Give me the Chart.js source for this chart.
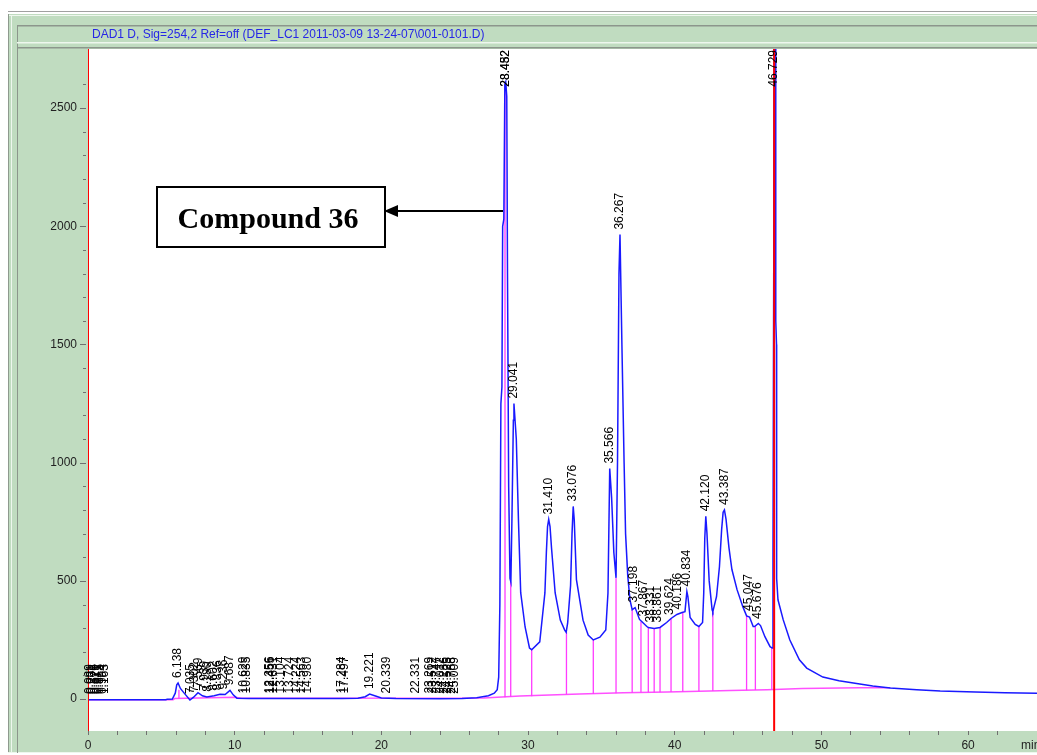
<!DOCTYPE html>
<html>
<head>
<meta charset="utf-8">
<script src="https://cdn.jsdelivr.net/npm/chart.js@4"></script>
<style>
  html, body { margin: 0; padding: 0; background: #fff; overflow: hidden; }
  canvas { display: block; }
</style>
</head>
<body>
<canvas id="chromChart" width="1037" height="755"></canvas>
<script>
// DAD1 D signal (mAU) against retention time (min)
const traceTime = [0, 5.3, 5.4, 5.75, 5.95, 6.05, 6.14, 6.3, 6.6, 6.95, 7.2, 7.5, 7.8, 8.1, 8.6, 9.0, 9.35, 9.68, 9.9, 10.15,
  11, 12.5, 14, 15.5, 17.3, 18.4, 18.9, 19.2, 19.6, 20.0, 21, 24, 25.5, 26.5, 27.3, 27.7, 27.9,
  28.0, 28.08, 28.15, 28.22, 28.27, 28.35, 28.42, 28.48, 28.55, 28.6, 28.68, 28.77, 28.83, 28.9, 29.0, 29.04,
  29.2, 29.35, 29.5, 29.8, 30.1, 30.25, 30.8, 31.15, 31.25, 31.33, 31.41, 31.5, 31.6, 31.85,
  32.2, 32.5, 32.6, 32.7, 32.9, 33.0, 33.08, 33.15, 33.3,
  33.75, 34.1, 34.45, 34.9, 35.3, 35.45, 35.57, 35.7, 35.85, 36.0, 36.1, 36.2, 36.27,
  36.4, 36.55, 36.65, 36.8, 36.95, 37.1, 37.3, 37.6, 37.75, 38.1, 38.2, 38.6, 39.0, 39.45, 39.75, 40.15, 40.5, 40.7,
  40.83, 40.9, 41.05, 41.4, 41.65, 41.9, 41.98, 42.05, 42.12, 42.2, 42.35, 42.55, 42.6, 42.85,
  43.05, 43.2, 43.3, 43.39, 43.5, 43.7, 43.9, 44.25,
  44.65, 44.9, 45.1, 45.35, 45.45, 45.7, 45.85, 46.15, 46.5, 46.65, 46.7, 46.75, 46.78, 46.87, 46.89, 46.94, 46.95,
  47.04, 47.4, 47.85, 48.5, 49.0, 50.1, 51.2, 52.4, 53.5, 54.7, 56.5, 58.1, 60.5, 62.5, 64.7];
const traceMau = [-3, -3, -1, 0, 25, 60, 68, 45, 22, -4, 8, 27, 14, 9, 14, 20, 19, 37, 18, 4,
  2, 3, 3, 2, 3, 4, 10, 21, 13, 5, 2, 1, 2, 6, 14, 25, 40,
  93, 400, 1250, 1320, 2000, 2030, 2600, 2610, 2550, 1800, 900, 510, 495, 750, 1180, 1250,
  1100, 750, 450, 305, 216, 209, 242, 449, 620, 730, 760, 730, 640, 449,
  334, 292, 283, 321, 480, 700, 815, 760, 505,
  334, 271, 250, 262, 292, 449, 975, 850, 620, 513, 1000, 1800, 1965,
  1500, 1000, 700, 520, 420, 378, 387, 337, 328, 307, 303, 299, 303, 324, 341, 358, 366, 370,
  455, 434, 345, 316, 307, 324, 450, 680, 773, 700, 500, 378, 370, 433,
  560, 718, 790, 800, 760, 640, 548, 463,
  390, 352, 347, 307, 307, 320, 311, 264, 222, 216, 600, 1800, 3200, 3000, 1600, 1500, 510,
  420, 335, 250, 166, 131, 93, 78, 66, 55, 47, 40, 34, 30, 27, 25];

// integration baseline
const baseTime = [0, 5.8, 5.9, 10, 10.5, 27, 27.9, 29.45, 33.5, 36.5, 39.5, 43.8, 46.3, 48.7, 52.6, 54.7];
const baseMau = [-3, -3, 2, 8, 4, 5, 8, 13, 21, 27, 30, 36, 39, 45, 48, 48];

// drop lines between peaks
const dropTime = [6.2, 28.43, 28.82, 30.25, 32.62, 34.45, 36.0, 37.1, 37.7, 38.2, 38.6, 39.0, 39.75, 40.55, 41.65, 42.6, 44.9, 45.5, 46.62];
const dropBase = [3, 8, 9, 12, 19, 22, 25, 27, 28, 29, 29, 29, 30, 31, 33, 34, 37, 38, 39];
const dropTop = [40, 2600, 495, 209, 283, 250, 513, 378, 328, 303, 299, 303, 341, 366, 307, 370, 352, 307, 216];

// time events (red markers)
const eventTime = [0, 46.78];

// peak labels: retention time and apex height
const peakTime = [0.089, 0.231, 0.378, 0.529, 0.671, 0.815, 0.994, 1.163,
  6.138, 7.035, 7.302, 7.569, 7.939, 8.180, 8.602, 8.836, 9.236, 9.687,
  10.629, 10.835, 12.356, 12.455, 12.631, 13.104, 13.724, 14.224, 14.563, 14.980,
  17.284, 17.497, 19.221, 20.339, 22.331, 23.269, 23.512, 23.747, 24.012, 24.286, 24.525, 24.788, 25.009,
  28.452, 28.482, 29.041, 31.410, 33.076, 35.566, 36.267, 37.198, 37.867, 38.331, 38.861,
  39.624, 40.186, 40.834, 42.120, 43.387, 45.047, 45.676, 46.729];
const peakApex = [0, 0, 0, 0, 0, 0, 0, 0,
  68, 0, 8, 27, 14, 10, 14, 16, 19, 37,
  3, 3, 3, 3, 3, 3, 2, 2, 2, 2,
  3, 3, 21, 3, 2, 2, 2, 2, 1, 1, 1, 1, 1,
  2610, 2610, 1250, 760, 815, 975, 1965, 387, 328, 303, 303,
  335, 358, 455, 773, 800, 352, 318, 3200];

const chartTitle = 'DAD1 D, Sig=254,2 Ref=off (DEF_LC1 2011-03-09 13-24-07\\001-0101.D)';
const calloutText = 'Compound 36';
const yMin = -135;
const yMax = 2750;

const sansFont = '"Liberation Sans", Arial, sans-serif';
const panelGreen = 'rgb(192,220,192)';

function pairs(xs, ys) {
    return xs.map((x, i) => ({ x: x, y: ys[i] }));
}

const dropData = [];
dropTime.forEach((t, i) => {
    dropData.push({ x: t, y: dropBase[i] }, { x: t, y: dropTop[i] }, { x: t, y: null });
});
const eventData = [];
eventTime.forEach(t => {
    eventData.push({ x: t, y: yMin }, { x: t, y: yMax }, { x: t, y: null });
});

const frame = {
    id: 'frame',
    beforeDraw(chart) {
        const c = chart.ctx;
        const a = chart.chartArea;
        const W = chart.width, H = chart.height;
        c.save();
        c.fillStyle = '#fff';
        c.fillRect(0, 0, W, H);
        c.fillStyle = '#a0a0a0';
        c.fillRect(8, 11, W - 8, 1);
        // outer green window
        c.fillStyle = panelGreen;
        c.fillRect(8, 14, W - 8, 739);
        c.fillStyle = '#8e9a8e';
        c.fillRect(8, 14, 1, 739);
        c.fillStyle = '#eef7ee';
        c.fillRect(9, 15, W - 9, 1);
        c.fillRect(11, 15, 1, 738);
        c.fillRect(8, 752, W - 8, 1);
        // title bar
        c.fillStyle = '#8c968c';
        c.fillRect(17, 25, W - 17, 1.5);
        c.fillRect(17, 25, 1, 728);
        c.fillStyle = '#eef7ee';
        c.fillRect(17, 42, W - 17, 1.5);
        c.fillStyle = '#8c968c';
        c.fillRect(17, 47, W - 17, 1.5);
        // plot area
        c.fillStyle = '#fff';
        c.fillRect(a.left, a.top, a.right - a.left, a.bottom - a.top);
        c.fillStyle = '#2626e6';
        c.font = '12px ' + sansFont;
        c.textBaseline = 'middle';
        c.fillText(chartTitle, 92, 35);
        c.restore();
    },
    afterDatasetsDraw(chart) {
        const c = chart.ctx;
        const a = chart.chartArea;
        const xs = chart.scales.x, ys = chart.scales.y;
        c.save();
        c.font = '12px ' + sansFont;
        c.fillStyle = '#000';
        c.textAlign = 'left';
        c.textBaseline = 'middle';
        peakTime.forEach((t, i) => {
            const label = t.toFixed(3);
            const w = c.measureText(label).width;
            const x = xs.getPixelForValue(t);
            let y = ys.getPixelForValue(peakApex[i]) - 5;
            if (y - w < a.top + 1) y = a.top + 1 + w;
            c.save();
            c.translate(x, y);
            c.rotate(-Math.PI / 2);
            c.fillText(label, 0, 0);
            c.restore();
        });
        c.restore();
    },
    afterDraw(chart) {
        const c = chart.ctx;
        const a = chart.chartArea;
        const ys = chart.scales.y;
        c.save();
        // y axis ticks, long at labelled values
        c.strokeStyle = '#707070';
        c.lineWidth = 1;
        ys.ticks.forEach(t => {
            const y = Math.round(ys.getPixelForValue(t.value)) + 0.5;
            const major = t.value % 500 === 0 && t.value !== 2700;
            c.beginPath();
            c.moveTo(a.left - (major ? 8 : 5), y);
            c.lineTo(a.left - 2, y);
            c.stroke();
        });
        // axis unit
        c.fillStyle = '#222';
        c.font = '12px ' + sansFont;
        c.textBaseline = 'middle';
        c.fillText('min', 1021, 746);
        // callout box and arrow
        c.fillStyle = '#fff';
        c.fillRect(157, 187, 228, 60);
        c.strokeStyle = '#000';
        c.lineWidth = 2;
        c.strokeRect(157, 187, 228, 60);
        c.fillStyle = '#000';
        c.font = 'bold 30px "Liberation Serif", "Times New Roman", serif';
        c.textAlign = 'center';
        c.textBaseline = 'alphabetic';
        c.fillText(calloutText, 268, 228);
        c.beginPath();
        c.moveTo(503, 211);
        c.lineTo(396, 211);
        c.stroke();
        c.beginPath();
        c.moveTo(384, 211);
        c.lineTo(398, 205);
        c.lineTo(398, 217);
        c.closePath();
        c.fill();
        c.restore();
    }
};

const ctx = document.getElementById('chromChart').getContext('2d');
const myChart = new Chart(ctx, {
    type: 'line',
    data: {
        datasets: [{
            label: 'Events',
            data: eventData,
            borderColor: '#ff0000',
            borderWidth: 2,
            spanGaps: false
        }, {
            label: 'DAD1 D',
            data: pairs(traceTime, traceMau),
            borderColor: 'rgb(25,25,255)',
            borderWidth: 1.5
        }, {
            label: 'Drops',
            data: dropData,
            borderColor: '#ff3cff',
            borderWidth: 1.3,
            spanGaps: false
        }, {
            label: 'Baseline',
            data: pairs(baseTime, baseMau),
            borderColor: '#ff50ff',
            borderWidth: 1.5
        }]
    },
    options: {
        responsive: false,
        animation: false,
        devicePixelRatio: 1,
        layout: { padding: { top: 49, left: 0, right: 0, bottom: 0 } },
        elements: { point: { radius: 0 }, line: { tension: 0 } },
        plugins: { legend: { display: false }, tooltip: { enabled: false } },
        scales: {
            x: {
                type: 'linear',
                min: 0,
                max: 64.7,
                afterBuildTicks: s => { s.ticks = s.ticks.filter(t => t.value % 2 === 0); },
                afterFit: s => { s.height = 24; },
                ticks: {
                    stepSize: 2,
                    autoSkip: false,
                    maxRotation: 0,
                    padding: 3,
                    color: '#222',
                    font: { size: 12, family: sansFont },
                    callback: v => (v % 10 === 0 ? String(v) : '')
                },
                grid: { drawOnChartArea: false, tickLength: 4, tickColor: '#707070' },
                border: { display: false }
            },
            y: {
                min: yMin,
                max: yMax,
                afterBuildTicks: s => { s.ticks = s.ticks.filter(t => t.value % 100 === 0); },
                afterFit: s => { s.width = 88; },
                ticks: {
                    stepSize: 100,
                    autoSkip: false,
                    padding: 3,
                    color: '#222',
                    font: { size: 12, family: sansFont },
                    callback: v => (v === 2700 ? 'mAU' : (v % 500 === 0 ? String(v) : ''))
                },
                grid: { drawOnChartArea: false, tickLength: 8, tickColor: 'transparent' },
                border: { display: false }
            }
        }
    },
    plugins: [frame]
});
</script>
</body>
</html>
